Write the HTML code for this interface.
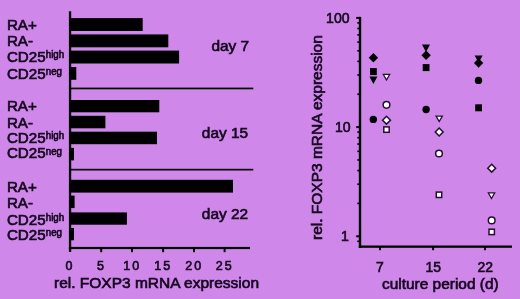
<!DOCTYPE html>
<html><head><meta charset="utf-8">
<style>
html,body{margin:0;padding:0;background:#d087ea;overflow:hidden}
svg{display:block}
text{font-family:"Liberation Sans",Arial,Helvetica,sans-serif;fill:#14071e;stroke:#14071e;stroke-width:0.6px}
</style></head>
<body>
<svg width="520" height="299" viewBox="0 0 520 299">
<rect width="520" height="299" fill="#d087ea"/>
<g fill="#000">
<rect x="68.90" y="11.30" width="2.30" height="240.70"/>
<rect x="68.90" y="246.90" width="181.10" height="2.20"/>
<rect x="70.00" y="87.60" width="183.30" height="1.70"/>
<rect x="70.00" y="168.80" width="183.30" height="1.70"/>
<rect x="100.20" y="248.00" width="2.00" height="4.20"/>
<rect x="131.00" y="248.00" width="2.00" height="4.20"/>
<rect x="162.10" y="248.00" width="2.00" height="4.20"/>
<rect x="193.00" y="248.00" width="2.00" height="4.20"/>
<rect x="223.60" y="248.00" width="2.00" height="4.20"/>
<rect x="70.00" y="18.10" width="72.70" height="12.90"/>
<rect x="70.00" y="34.40" width="98.30" height="12.90"/>
<rect x="70.00" y="50.60" width="109.10" height="12.90"/>
<rect x="70.00" y="67.00" width="6.30" height="12.80"/>
<rect x="70.00" y="100.00" width="89.30" height="12.30"/>
<rect x="70.00" y="115.80" width="35.40" height="12.50"/>
<rect x="70.00" y="131.70" width="87.00" height="12.50"/>
<rect x="70.00" y="147.90" width="4.00" height="12.50"/>
<rect x="70.00" y="179.80" width="163.00" height="12.80"/>
<rect x="70.00" y="195.60" width="4.60" height="12.50"/>
<rect x="70.00" y="212.40" width="56.90" height="12.30"/>
<rect x="70.00" y="228.00" width="4.00" height="12.30"/>
</g>
<text transform="translate(6.90 30.10) scale(1.085 1)" font-size="14.00" text-anchor="start">RA+</text>
<text transform="translate(6.90 46.10) scale(1.085 1)" font-size="14.00" text-anchor="start">RA-</text>
<text transform="translate(6.90 62.00) scale(1.085 1)" font-size="14.00" text-anchor="start">CD25</text>
<text transform="translate(45.73 58.10) scale(0.977 1)" font-size="10.00" text-anchor="start">high</text>
<text transform="translate(6.90 78.70) scale(1.085 1)" font-size="14.00" text-anchor="start">CD25</text>
<text transform="translate(45.73 74.80) scale(0.977 1)" font-size="10.00" text-anchor="start">neg</text>
<text transform="translate(6.90 111.30) scale(1.085 1)" font-size="14.00" text-anchor="start">RA+</text>
<text transform="translate(6.90 127.50) scale(1.085 1)" font-size="14.00" text-anchor="start">RA-</text>
<text transform="translate(6.90 143.20) scale(1.085 1)" font-size="14.00" text-anchor="start">CD25</text>
<text transform="translate(45.73 139.30) scale(0.977 1)" font-size="10.00" text-anchor="start">high</text>
<text transform="translate(6.90 158.40) scale(1.085 1)" font-size="14.00" text-anchor="start">CD25</text>
<text transform="translate(45.73 154.50) scale(0.977 1)" font-size="10.00" text-anchor="start">neg</text>
<text transform="translate(6.90 192.30) scale(1.085 1)" font-size="14.00" text-anchor="start">RA+</text>
<text transform="translate(6.90 207.50) scale(1.085 1)" font-size="14.00" text-anchor="start">RA-</text>
<text transform="translate(6.90 224.50) scale(1.085 1)" font-size="14.00" text-anchor="start">CD25</text>
<text transform="translate(45.73 220.60) scale(0.977 1)" font-size="10.00" text-anchor="start">high</text>
<text transform="translate(6.90 239.90) scale(1.085 1)" font-size="14.00" text-anchor="start">CD25</text>
<text transform="translate(45.73 236.00) scale(0.977 1)" font-size="10.00" text-anchor="start">neg</text>
<text transform="translate(211.40 51.20) scale(1.050 1)" font-size="14.70" text-anchor="start">day 7</text>
<text transform="translate(201.80 138.00) scale(1.050 1)" font-size="14.70" text-anchor="start">day 15</text>
<text transform="translate(201.80 219.40) scale(1.050 1)" font-size="14.70" text-anchor="start">day 22</text>
<text transform="translate(70.00 270.00) scale(1.000 1)" font-size="12.50" text-anchor="middle" letter-spacing="2.00">0</text>
<text transform="translate(101.40 270.00) scale(1.000 1)" font-size="12.50" text-anchor="middle" letter-spacing="2.00">5</text>
<text transform="translate(132.20 270.00) scale(1.000 1)" font-size="12.50" text-anchor="middle" letter-spacing="2.00">10</text>
<text transform="translate(163.30 270.00) scale(1.000 1)" font-size="12.50" text-anchor="middle" letter-spacing="2.00">15</text>
<text transform="translate(194.20 270.00) scale(1.000 1)" font-size="12.50" text-anchor="middle" letter-spacing="2.00">20</text>
<text transform="translate(224.80 270.00) scale(1.000 1)" font-size="12.50" text-anchor="middle" letter-spacing="2.00">25</text>
<text transform="translate(54.00 288.30) scale(1.063 1)" font-size="14.60" text-anchor="start">rel. FOXP3 mRNA expression</text>
<g fill="#000">
<rect x="358.80" y="16.90" width="2.40" height="230.90"/>
<rect x="358.80" y="245.50" width="153.20" height="2.30"/>
<rect x="356.20" y="16.90" width="3.80" height="2.00"/>
<rect x="356.20" y="126.10" width="3.80" height="2.00"/>
<rect x="356.20" y="235.30" width="3.80" height="2.00"/>
<rect x="357.30" y="93.43" width="2.70" height="1.60"/>
<rect x="357.30" y="74.20" width="2.70" height="1.60"/>
<rect x="357.30" y="60.56" width="2.70" height="1.60"/>
<rect x="357.30" y="49.97" width="2.70" height="1.60"/>
<rect x="357.30" y="41.33" width="2.70" height="1.60"/>
<rect x="357.30" y="34.02" width="2.70" height="1.60"/>
<rect x="357.30" y="27.68" width="2.70" height="1.60"/>
<rect x="357.30" y="22.10" width="2.70" height="1.60"/>
<rect x="357.30" y="202.63" width="2.70" height="1.60"/>
<rect x="357.30" y="183.40" width="2.70" height="1.60"/>
<rect x="357.30" y="169.76" width="2.70" height="1.60"/>
<rect x="357.30" y="159.17" width="2.70" height="1.60"/>
<rect x="357.30" y="150.53" width="2.70" height="1.60"/>
<rect x="357.30" y="143.22" width="2.70" height="1.60"/>
<rect x="357.30" y="136.88" width="2.70" height="1.60"/>
<rect x="357.30" y="131.30" width="2.70" height="1.60"/>
<rect x="357.30" y="240.50" width="2.70" height="1.60"/>
<rect x="379.00" y="247.00" width="2.00" height="3.20"/>
<rect x="432.10" y="247.00" width="2.00" height="3.20"/>
<rect x="484.00" y="247.00" width="2.00" height="3.20"/>
</g>
<text transform="translate(349.60 22.60) scale(0.940 1)" font-size="15.00" text-anchor="end">100</text>
<text transform="translate(350.60 132.30) scale(0.940 1)" font-size="15.00" text-anchor="end">10</text>
<text transform="translate(348.80 241.10) scale(0.940 1)" font-size="15.00" text-anchor="end">1</text>
<text transform="translate(379.80 271.60) scale(0.980 1)" font-size="14.20" text-anchor="middle">7</text>
<text transform="translate(433.20 271.60) scale(0.980 1)" font-size="14.20" text-anchor="middle">15</text>
<text transform="translate(485.20 271.60) scale(0.980 1)" font-size="14.20" text-anchor="middle">22</text>
<text transform="translate(382.00 288.80) scale(1.058 1)" font-size="14.60" text-anchor="start">culture period (d)</text>
<text transform="translate(322.30 240.00) rotate(-90) scale(1.061 1)" font-size="14.60" text-anchor="start">rel. FOXP3 mRNA expression</text>
<polygon points="368.70,57.80 373.40,53.10 378.10,57.80 373.40,62.50" fill="#000"/>
<rect x="370.00" y="68.10" width="6.80" height="7.00" fill="#000"/>
<polygon points="369.40,76.50 377.40,76.50 373.40,83.90" fill="#000"/>
<polygon points="383.35,74.45 389.65,74.45 386.50,79.95" fill="#fff" stroke="#24102e" stroke-width="1.3" stroke-linejoin="miter"/>
<circle cx="386.50" cy="104.80" r="3.35" fill="#fff" stroke="#24102e" stroke-width="1.5"/>
<circle cx="373.30" cy="119.40" r="3.70" fill="#000"/>
<polygon points="382.55,120.20 386.50,116.25 390.45,120.20 386.50,124.15" fill="#fff" stroke="#24102e" stroke-width="1.5"/>
<rect x="383.80" y="126.90" width="5.40" height="5.40" fill="#fff" stroke="#24102e" stroke-width="1.5"/>
<polygon points="422.00,44.60 430.00,44.60 426.00,52.00" fill="#000"/>
<polygon points="421.40,55.20 426.10,50.50 430.80,55.20 426.10,59.90" fill="#000"/>
<rect x="422.70" y="64.10" width="6.80" height="7.00" fill="#000"/>
<circle cx="426.10" cy="109.50" r="3.70" fill="#000"/>
<polygon points="436.05,116.05 442.35,116.05 439.20,121.55" fill="#fff" stroke="#24102e" stroke-width="1.3" stroke-linejoin="miter"/>
<polygon points="435.25,132.00 439.20,128.05 443.15,132.00 439.20,135.95" fill="#fff" stroke="#24102e" stroke-width="1.5"/>
<circle cx="439.00" cy="153.50" r="3.35" fill="#fff" stroke="#24102e" stroke-width="1.5"/>
<rect x="436.30" y="192.10" width="5.40" height="5.40" fill="#fff" stroke="#24102e" stroke-width="1.5"/>
<polygon points="474.60,55.40 482.60,55.40 478.60,62.80" fill="#000"/>
<polygon points="473.90,63.00 478.60,58.30 483.30,63.00 478.60,67.70" fill="#000"/>
<circle cx="478.50" cy="80.40" r="3.70" fill="#000"/>
<rect x="475.20" y="104.30" width="6.80" height="7.00" fill="#000"/>
<polygon points="487.75,168.20 491.70,164.25 495.65,168.20 491.70,172.15" fill="#fff" stroke="#24102e" stroke-width="1.5"/>
<polygon points="488.35,192.95 494.65,192.95 491.50,198.45" fill="#fff" stroke="#24102e" stroke-width="1.3" stroke-linejoin="miter"/>
<circle cx="491.70" cy="220.40" r="3.35" fill="#fff" stroke="#24102e" stroke-width="1.5"/>
<rect x="489.00" y="229.20" width="5.40" height="5.40" fill="#fff" stroke="#24102e" stroke-width="1.5"/>
</svg>
</body></html>
